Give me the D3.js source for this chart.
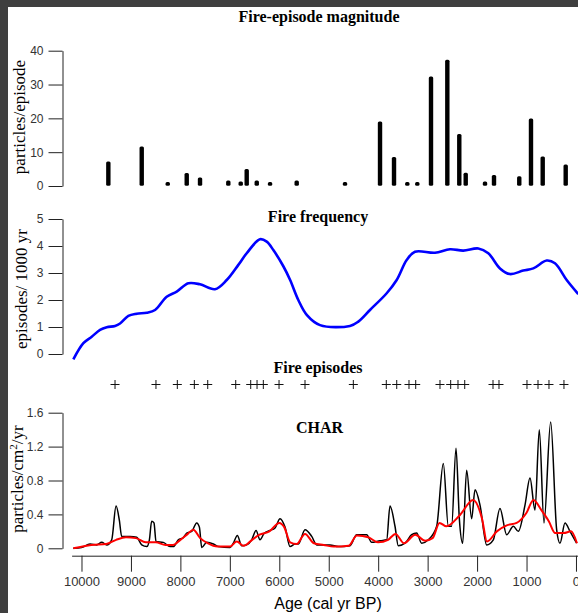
<html>
<head>
  <title>Fire history</title>
<script src="https://d3js.org/d3.v7.min.js"></script>
<style>
  body { margin: 0; background: #3f3f3f; }
  .tick text { font-family: "Liberation Sans", Arial, sans-serif; font-size: 12px; fill: #333; }
  .serif { font-family: "Liberation Serif", "Times New Roman", serif; }
</style>
</head>
<body>
  <script>
    // episode magnitudes (top panel)
    var barAges = [9285, 8610, 8084, 7700, 7431, 6859, 6608, 6487, 6284, 6015, 5476,
                   4499, 3791, 3508, 3239, 3037, 2760, 2430, 2188, 2058, 1668, 1486, 975, 738, 501, 36];
    var barMagnitudes = [7.1, 11.5, 1, 3.7, 2.4, 1.5, 1.2, 4.9, 1.5, 1, 1.5,
                         1, 18.9, 8.4, 0.6, 0.6, 32.2, 37.2, 15.2, 3.8, 1.2, 3.1, 2.7, 19.8, 8.6, 6.2];

    // fire frequency curve
    var freqAges = [10165, 9962, 9793, 9625, 9489, 9321, 9220, 9052, 8883, 8680, 8513, 8277, 8074, 7839, 7603,
                    7300, 7063, 6828, 6659, 6390, 6254, 6120, 5918, 5783, 5615, 5445, 5176, 4570, 4402, 4166,
                    3828, 3626, 3424, 3256, 2851, 2548, 2279, 1975, 1773, 1537, 1335, 1066, 863, 593, 425, 188, -46];
    var freqValues = [-0.2, 0.4, 0.64, 0.89, 0.99, 1.04, 1.13, 1.41, 1.49, 1.53, 1.63, 2.12, 2.31, 2.62, 2.58,
                      2.4, 2.74, 3.3, 3.73, 4.25, 4.16, 3.85, 3.25, 2.75, 2.0, 1.45, 1.07, 1.04, 1.2, 1.63,
                      2.25, 2.74, 3.48, 3.79, 3.75, 3.88, 3.83, 3.91, 3.73, 3.17, 2.96, 3.09, 3.17, 3.46, 3.36, 2.74, 2.22];

    // fire episodes (plus marks)
    var episodeAges = [9322, 8494, 8062, 7718, 7447, 6881, 6578, 6450, 6323, 6005, 5480,
                       4503, 3836, 3625, 3377, 3241, 2750, 2534, 2386, 2250, 1678, 1557, 991, 768, 546, 243];

    // CHAR (black) and background (red)
    var charAges = [10165, 10000, 9827, 9693, 9591, 9490, 9389, 9301, 9234, 9187, 9018, 8883, 8782, 8680, 8627,
                    8581, 8534, 8493, 8345, 8210, 8143, 8042, 7941, 7872, 7771, 7670, 7616, 7568, 7467, 7332,
                    7232, 6996, 6929, 6848, 6760, 6659, 6558, 6470, 6390, 6302, 6188, 6086, 5985, 5884, 5783,
                    5682, 5614, 5480, 5344, 5243, 4974, 4806, 4570, 4435, 4233, 4132, 3963, 3828, 3761, 3660,
                    3593, 3458, 3323, 3222, 3121, 2986, 2817, 2683, 2582, 2515, 2426, 2359, 2292, 2211, 2110,
                    2042, 1941, 1806, 1672, 1537, 1402, 1267, 1166, 1031, 930, 829, 742, 647, 512, 391,
                    324, 222, 121, -13];
    var charValues = [0, 0.01, 0.05, 0.04, 0.07, 0.04, 0.1, 0.5, 0.33, 0.14, 0.14, 0.13, 0.04, 0.02, 0.1,
                      0.32, 0.3, 0.08, 0.07, 0.02, 0.02, 0.1, 0.125, 0.18, 0.2, 0.3, 0.25, 0.01, 0.07, 0.05,
                      0.02, 0.01, 0.06, 0.15, 0.03, 0.04, 0.1, 0.21, 0.1, 0.18, 0.21, 0.24, 0.35, 0.25, 0.02,
                      0.05, 0.05, 0.22, 0.14, 0.04, 0.04, 0.02, 0.03, 0.16, 0.16, 0.07, 0.09, 0.1, 0.5, 0.26,
                      0.03, 0.06, 0.16, 0.18, 0.06, 0.1, 0.26, 1.0, 0.26, 0.26, 1.18, 0.35, 0.06, 0.92, 0.35,
                      0.69, 0.51, 0.04, 0.1, 0.47, 0.16, 0.26, 0.2, 0.51, 0.83, 0.45, 1.40, 0.3, 1.49, 0.22,
                      0.06, 0.3, 0.2, 0.06];
    var backAges = [10165, 9800, 9500, 9300, 9100, 8900, 8700, 8500, 8300, 8150, 8000, 7850, 7740, 7600, 7450,
                    7250, 7000, 6860, 6720, 6550, 6400, 6200, 6000, 5900, 5780, 5650, 5480, 5300, 5100, 4900,
                    4600, 4430, 4200, 4000, 3800, 3650, 3480, 3250, 3050, 2900, 2760, 2620, 2350, 2080, 1900,
                    1800, 1600, 1400, 1200, 1000, 860, 700, 550, 420, 250, 100, -20];
    var backValues = [0, 0.04, 0.05, 0.1, 0.13, 0.12, 0.07, 0.07, 0.04, 0.04, 0.1, 0.17, 0.22, 0.12, 0.06,
                      0.02, 0.02, 0.08, 0.03, 0.1, 0.16, 0.2, 0.3, 0.25, 0.07, 0.05, 0.17, 0.06, 0.04, 0.02,
                      0.03, 0.15, 0.13, 0.07, 0.1, 0.17, 0.06, 0.16, 0.09, 0.12, 0.3, 0.26, 0.39, 0.57, 0.35,
                      0.08, 0.2, 0.27, 0.3, 0.42, 0.57, 0.45, 0.32, 0.18, 0.18, 0.2, 0.06];

    var ageTicks = [10000, 9000, 8000, 7000, 6000, 5000, 4000, 3000, 2000, 1000, 0];

    var width = 578, height = 613;

    var svg = d3.select("body").append("svg")
              .attr("width", width)
              .attr("height", height);

    svg.append("rect")
       .attr("x", 8).attr("y", 7)
       .attr("width", width - 8).attr("height", height - 7)
       .attr("fill", "white");

    var x = d3.scaleLinear().domain([10200, -150]).range([71.6, 583.4]);
    // the magnitude bars sit a little left of the bottom axis in the original
    var xBar = d3.scaleLinear().domain([10200, -150]).range([63.1, 574.9]);

    var yMag = d3.scaleLinear().domain([0, 40]).range([186, 50.7]);
    var yFreq = d3.scaleLinear().domain([0, 5]).range([354, 219]);
    var yChar = d3.scaleLinear().domain([0, 1.6]).range([548.3, 412.7]);

    function leftAxis(scale, major, minor, fmt) {
      var g = svg.append("g").attr("transform", "translate(62.5,0)");
      g.call(d3.axisLeft(scale).tickValues(minor).tickSize(6).tickSizeOuter(0).tickFormat(""));
      g.call(d3.axisLeft(scale).tickValues(major).tickSize(14).tickSizeOuter(0).tickPadding(5).tickFormat(fmt));
      g.selectAll("path, line").attr("stroke", "#222");
      return g;
    }

    leftAxis(yMag, [0, 10, 20, 30, 40], [5, 15, 25, 35], d3.format("d"));
    leftAxis(yFreq, [0, 1, 2, 3, 4, 5], [0.5, 1.5, 2.5, 3.5, 4.5], d3.format("d"));
    leftAxis(yChar, [0, 0.4, 0.8, 1.2, 1.6], [0.2, 0.6, 1.0, 1.4], function(d){ return d === 0 ? "0" : d3.format(".1f")(d); });

    var bottom = svg.append("g").attr("transform", "translate(0,555.7)");
    bottom.call(d3.axisBottom(x).tickValues(d3.range(500, 10001, 1000)).tickSize(8).tickSizeOuter(0).tickFormat(""));
    bottom.call(d3.axisBottom(x).tickValues(ageTicks).tickSize(16).tickSizeOuter(0).tickPadding(5).tickFormat(d3.format("d")));
    bottom.selectAll("path, line").attr("stroke", "#222");
    bottom.selectAll(".tick text").style("font-size", "13px");

    // magnitude bars
    svg.selectAll("rect.bar")
       .data(barAges)
       .enter()
         .append("rect")
         .attr("class", "bar")
         .attr("x", function(d){ return xBar(d) - 2.2; })
         .attr("width", 4.4)
         .attr("y", function(d, i){ return Math.min(yMag(barMagnitudes[i]), 182.5) - 0.5; })
         .attr("height", function(d, i){ return 186.3 - Math.min(yMag(barMagnitudes[i]), 182.5); })
         .attr("rx", 1.5)
         .attr("fill", "black");

    // fire frequency
    var freqLine = d3.line()
                     .x(function(d){ return x(d); })
                     .y(function(d, i){ return yFreq(freqValues[i]); })
                     .curve(d3.curveCatmullRom);
    svg.append("path")
       .attr("d", freqLine(freqAges))
       .attr("fill", "none")
       .attr("stroke", "#0000ff")
       .attr("stroke-width", 2.6);

    // plus marks
    svg.selectAll("path.plus")
       .data(episodeAges)
       .enter()
         .append("path")
         .attr("class", "plus")
         .attr("transform", function(d){ return "translate(" + x(d) + ",384.5)"; })
         .attr("d", "M-4.5,0H4.5M0,-4.5V4.5")
         .attr("stroke", "#111")
         .attr("stroke-width", 1);

    // CHAR lines
    var charLine = d3.line()
                     .x(function(d){ return x(d); })
                     .y(function(d, i){ return yChar(charValues[i]); })
                     .curve(d3.curveMonotoneX);
    svg.append("path")
       .attr("d", charLine(charAges))
       .attr("fill", "none")
       .attr("stroke", "black")
       .attr("stroke-width", 1.5);

    var backLine = d3.line()
                     .x(function(d){ return x(d); })
                     .y(function(d, i){ return yChar(backValues[i]); })
                     .curve(d3.curveMonotoneX);
    svg.append("path")
       .attr("d", backLine(backAges))
       .attr("fill", "none")
       .attr("stroke", "#ff0000")
       .attr("stroke-width", 2);

    // titles
    function title(txt, tx, ty, anchor) {
      svg.append("text")
         .attr("class", "serif")
         .attr("x", tx).attr("y", ty)
         .attr("text-anchor", anchor)
         .style("font-size", "16px")
         .style("font-weight", "bold")
         .text(txt);
    }
    title("Fire-episode magnitude", 319, 22, "middle");
    title("Fire frequency", 318, 222, "middle");
    title("Fire episodes", 318, 373, "middle");
    title("CHAR", 296, 433, "start");

    function yLabel(txt, cx, cy) {
      svg.append("text")
         .attr("class", "serif")
         .attr("transform", "translate(" + cx + "," + cy + ") rotate(-90)")
         .attr("text-anchor", "middle")
         .style("font-size", "17px")
         .text(txt);
    }
    yLabel("particles/episode", 25, 117);
    yLabel("episodes/ 1000 yr", 27, 289);
    svg.append("text")
       .attr("class", "serif")
       .attr("transform", "translate(23,479) rotate(-90)")
       .attr("text-anchor", "middle")
       .style("font-size", "17px")
       .html("particles/cm<tspan dy='-6' font-size='11px'>2</tspan><tspan dy='6'>/yr</tspan>");

    svg.append("text")
       .attr("x", 328).attr("y", 609)
       .attr("text-anchor", "middle")
       .style("font-family", "'Liberation Sans', Arial, sans-serif")
       .style("font-size", "16px")
       .text("Age (cal yr BP)");
  </script>
</body>
</html>
